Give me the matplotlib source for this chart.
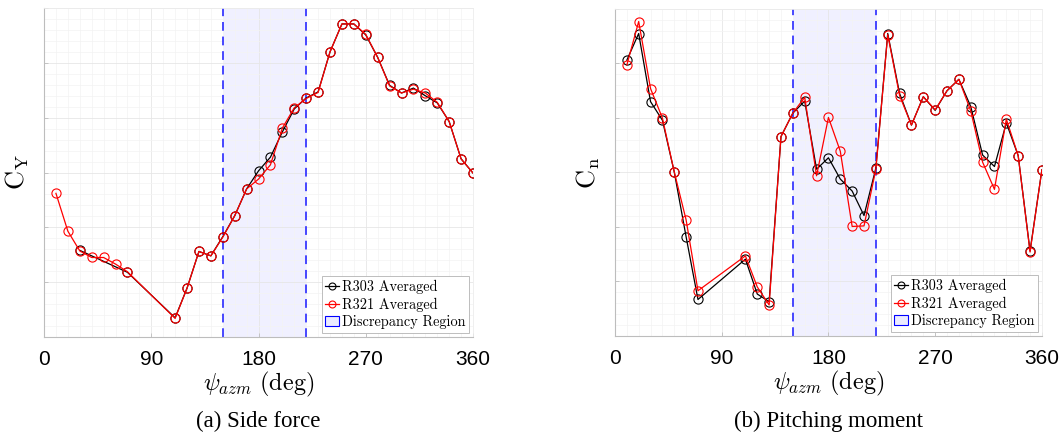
import matplotlib
matplotlib.use("Agg")
import matplotlib.pyplot as plt
from matplotlib.lines import Line2D
from matplotlib.patches import Patch
from matplotlib.ticker import MultipleLocator

plt.rcParams["mathtext.fontset"] = "cm"

# Azimuth stations (deg)
psi_r321 = [10, 20, 30, 40, 50, 60, 70, 110, 120, 130, 140, 150, 160, 170, 180, 190,
            200, 210, 220, 230, 240, 250, 260, 270, 280, 290, 300, 310, 320, 330, 340, 350, 360]
psi_r303_cy = [30, 70, 110, 120, 130, 140, 150, 160, 170, 180, 190, 200, 210, 220, 230,
               240, 250, 260, 270, 280, 290, 300, 310, 320, 330, 340, 350, 360]
psi_r303_cn = psi_r321

# Side force coefficient (normalised units)
cy_r321 = [2.62, 1.93, 1.57, 1.45, 1.45, 1.33, 1.19, 0.34, 0.89, 1.56, 1.48, 1.82, 2.21,
           2.70, 2.88, 3.14, 3.81, 4.18, 4.35, 4.46, 5.20, 5.71, 5.71, 5.52, 5.10, 4.58,
           4.45, 4.52, 4.45, 4.28, 3.93, 3.25, 2.99]
cy_r303 = [1.58, 1.18, 0.35, 0.89, 1.56, 1.48, 1.83, 2.21, 2.70, 3.03, 3.28, 3.74, 4.16,
           4.36, 4.47, 5.20, 5.71, 5.71, 5.51, 5.10, 4.59, 4.45, 4.54, 4.40, 4.27, 3.93,
           3.25, 2.99]

# Pitching moment coefficient (normalised units)
cn_r321 = [4.97, 5.77, 4.54, 4.00, 3.01, 2.13, 0.83, 1.47, 0.90, 0.57, 3.66, 4.09, 4.38,
           2.94, 4.01, 3.39, 2.01, 2.02, 3.06, 5.53, 4.41, 3.87, 4.39, 4.15, 4.50, 4.71,
           4.13, 3.19, 2.69, 3.98, 3.31, 1.54, 3.05]
cn_r303 = [5.06, 5.55, 4.30, 3.96, 3.01, 1.82, 0.67, 1.41, 0.77, 0.63, 3.66, 4.09, 4.31,
           3.06, 3.27, 2.88, 2.66, 2.21, 3.08, 5.55, 4.45, 3.87, 4.39, 4.14, 4.50, 4.71,
           4.21, 3.32, 3.11, 3.91, 3.31, 1.56, 3.05]

region = (150, 220)
x_ticks = [0, 90, 180, 270, 360]
labels = ["R303 Averaged", "R321 Averaged", "Discrepancy Region"]

fig = plt.figure(figsize=(10.61, 4.34), dpi=100)
ax_a = fig.add_axes([0.0415, 0.2235, 0.4043, 0.758])
ax_b = fig.add_axes([0.5796, 0.2258, 0.4024, 0.7535])

panels = [
    (ax_a, psi_r303_cy, cy_r303, psi_r321, cy_r321, r"$\mathrm{C_Y}$", "(a) Side force"),
    (ax_b, psi_r303_cn, cn_r303, psi_r321, cn_r321, r"$\mathrm{C_n}$", "(b) Pitching moment"),
]

for ax, x1, y1, x2, y2, ylab, caption in panels:
    ax.axvspan(*region, color=(0.0, 0.0, 1.0), alpha=0.06, lw=0, zorder=0)
    for xv in region:
        ax.axvline(xv, color="#4646ff", lw=1.4, ls=(0, (4.5, 3)), zorder=1)
    ax.plot(x1, y1, color="black", lw=0.9, marker="o", ms=6.6, mfc="none", mew=0.8, zorder=3)
    ax.plot(x2, y2, color="red", lw=0.9, marker="o", ms=6.6, mfc="none", mew=0.8, zorder=4)

    ax.set_xlim(0, 360)
    ax.set_ylim(0, 6)
    ax.set_xticks(x_ticks)
    ax.xaxis.set_minor_locator(MultipleLocator(10))
    ax.yaxis.set_major_locator(MultipleLocator(1))
    ax.yaxis.set_minor_locator(MultipleLocator(0.2))
    ax.set_yticklabels([])
    ax.grid(which="major", color="#e6e6e6", lw=0.6, zorder=0)
    ax.grid(which="minor", color="#f3f3f3", lw=0.5, zorder=0)
    ax.set_axisbelow(True)
    ax.tick_params(which="both", direction="in", color="#bdbdbd", length=3, width=0.6)
    ax.tick_params(which="minor", length=0)
    ax.tick_params(axis="x", which="major", pad=9, labelsize=15, labelcolor="black")
    for lab in ax.get_xticklabels():
        lab.set_family(["Liberation Sans", "DejaVu Sans"])
    for side in ("top", "right"):
        ax.spines[side].set_color("#ececec")
        ax.spines[side].set_linewidth(0.6)
    for side in ("left", "bottom"):
        ax.spines[side].set_color("#bdbdbd")
        ax.spines[side].set_linewidth(0.8)

    ax.set_xlabel(r"$\psi_{azm}\ \mathrm{(deg)}$", fontsize=17.5, labelpad=1)
    ax.set_ylabel(ylab, fontsize=19, labelpad=6)

    handles = [
        Line2D([], [], color="black", lw=0.9, marker="o", ms=5, mfc="none", mew=0.8),
        Line2D([], [], color="red", lw=0.9, marker="o", ms=5, mfc="none", mew=0.8),
        Patch(facecolor=(0.92, 0.92, 1.0), edgecolor="blue", lw=0.8),
    ]
    leg = ax.legend(handles, labels, loc="lower right", prop={"family": "cmr10", "size": 10.3},
                    handlelength=1.0, handletextpad=0.15, labelspacing=0.25,
                    borderpad=0.25, borderaxespad=0.3, fancybox=False, framealpha=1,
                    edgecolor="#bdbdbd")
    leg.get_frame().set_linewidth(0.7)

    bb = ax.get_position()
    fig.text(bb.x0 + bb.width / 2, 0.028, caption, ha="center", va="center",
             fontsize=16.5, family=["Liberation Serif", "DejaVu Serif"])

fig.savefig("out.png", dpi=100)
